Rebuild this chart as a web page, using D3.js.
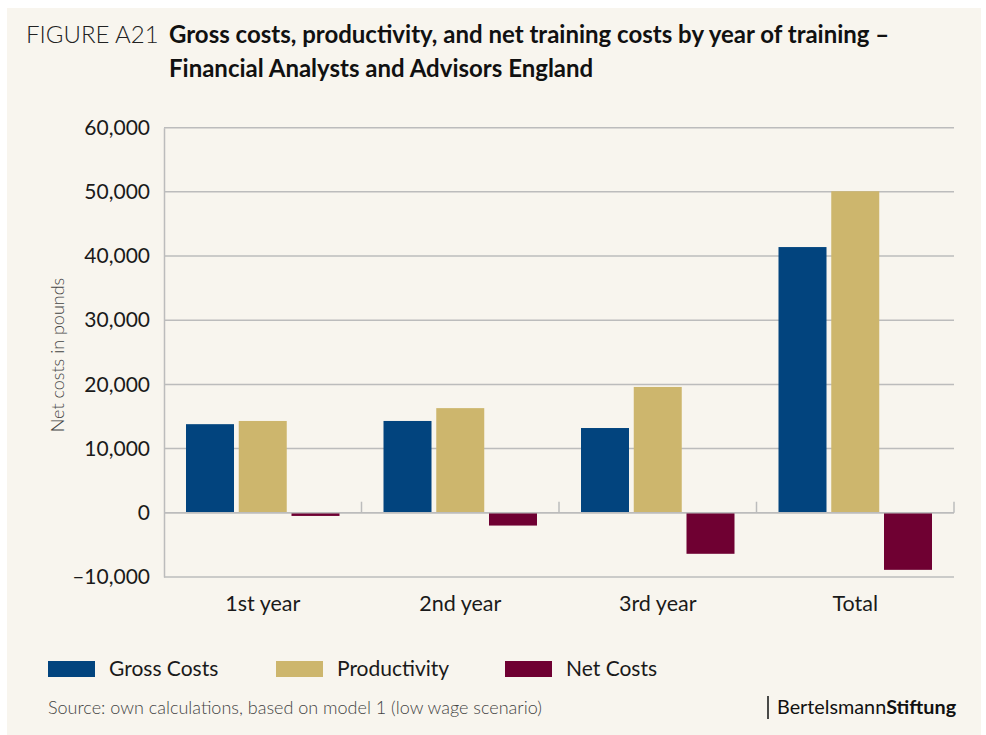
<!DOCTYPE html>
<html>
<head>
<meta charset="utf-8">
<script src="https://cdn.jsdelivr.net/npm/d3@7"></script>
<style>
  body { margin: 0; background: #fff; }
  svg { display: block; font-family: Lato, "Open Sans", sans-serif; }
</style>
</head>
<body>
<svg id="chart" width="986" height="735"></svg>
<script>
// data
const categories = ['1st year', '2nd year', '3rd year', 'Total'];
const series = ['Gross Costs', 'Productivity', 'Net Costs'];
const grossCosts = [13800, 14300, 13200, 41400];
const productivity = [14300, 16300, 19600, 50100];
const netCosts = [-500, -2000, -6400, -8900];
const yTicks = [-10000, 0, 10000, 20000, 30000, 40000, 50000, 60000];
const colors = ['#02447e', '#cdb66d', '#6f0032'];

const values = [grossCosts, productivity, netCosts];
const rows = categories.map((c, i) => ({
  cat: c,
  vals: series.map((s, j) => ({ key: s, value: values[j][i], color: colors[j] }))
}));

const svg = d3.select('#chart');

// background panel
svg.append('rect')
  .attr('x', 7).attr('y', 8).attr('width', 974).attr('height', 727)
  .attr('fill', '#f8f5ee');

// title
svg.append('text')
  .attr('x', 26).attr('y', 43)
  .attr('font-size', 24).attr('font-weight', 300).attr('fill', '#222')
  .text('FIGURE A21');
svg.append('text')
  .attr('x', 169).attr('y', 43)
  .attr('font-size', 24).attr('font-weight', 700).attr('fill', '#111')
  .text('Gross costs, productivity, and net training costs by year of training –');
svg.append('text')
  .attr('x', 169).attr('y', 77)
  .attr('font-size', 24).attr('font-weight', 700).attr('fill', '#111')
  .text('Financial Analysts and Advisors England');

const plotL = 164, plotR = 954, plotT = 127.7, plotB = 576.9;

const y = d3.scaleLinear().domain([-10000, 60000]).range([plotB, plotT]);
const x0 = d3.scaleBand().domain(categories).range([plotL, plotR]).padding(0);
const x1 = d3.scaleBand().domain(series)
  .range([22, x0.bandwidth() - 22]).paddingInner(0.09).paddingOuter(0);

// gridlines
svg.append('g')
  .selectAll('line')
  .data(yTicks)
  .join('line')
  .attr('x1', plotL).attr('x2', plotR)
  .attr('y1', d => y(d)).attr('y2', d => y(d))
  .attr('stroke', '#bcbcbc').attr('stroke-width', 1.5);

// y axis
const yAxis = svg.append('g')
  .attr('transform', `translate(${plotL},0)`)
  .call(d3.axisLeft(y).tickValues(yTicks).tickSize(0).tickPadding(14)
    .tickFormat(d => (d < 0 ? '–' : '') + d3.format(',')(Math.abs(d))));
yAxis.select('.domain').attr('stroke', '#bcbcbc').attr('stroke-width', 1.5);
yAxis.selectAll('text')
  .attr('font-size', 21).attr('fill', '#1a1a1a')
  .attr('font-family', 'Lato, sans-serif');

// y axis title
svg.append('text')
  .attr('transform', 'translate(64,355) rotate(-90)')
  .attr('text-anchor', 'middle')
  .attr('font-size', 18).attr('font-weight', 300).attr('fill', '#444')
  .text('Net costs in pounds');

// bars
const groups = svg.append('g')
  .selectAll('g')
  .data(rows)
  .join('g')
  .attr('transform', d => `translate(${x0(d.cat)},0)`);

groups.selectAll('rect')
  .data(d => d.vals)
  .join('rect')
  .attr('x', d => x1(d.key))
  .attr('width', x1.bandwidth())
  .attr('y', d => y(Math.max(0, d.value)))
  .attr('height', d => Math.abs(y(d.value) - y(0)))
  .attr('fill', d => d.color);

// zero line on top with category ticks
svg.append('line')
  .attr('x1', plotL).attr('x2', plotR)
  .attr('y1', y(0)).attr('y2', y(0))
  .attr('stroke', '#bcbcbc').attr('stroke-width', 1.5);
svg.append('g')
  .selectAll('line')
  .data(categories.slice(1).map(c => x0(c)).concat([plotR]))
  .join('line')
  .attr('x1', d => d).attr('x2', d => d)
  .attr('y1', y(0)).attr('y2', y(0) - 11)
  .attr('stroke', '#bcbcbc').attr('stroke-width', 1.5);

// category labels
svg.append('g')
  .selectAll('text')
  .data(categories)
  .join('text')
  .attr('x', d => x0(d) + x0.bandwidth() / 2)
  .attr('y', 611)
  .attr('text-anchor', 'middle')
  .attr('font-size', 21.5).attr('fill', '#1a1a1a')
  .text(d => d);

// legend
const legendX = [48, 276, 505];
const legend = svg.append('g')
  .selectAll('g')
  .data(series)
  .join('g')
  .attr('transform', (d, i) => `translate(${legendX[i]},661)`);
legend.append('rect')
  .attr('width', 47).attr('height', 16)
  .attr('fill', (d, i) => colors[i]);
legend.append('text')
  .attr('x', 61).attr('y', 15)
  .attr('font-size', 21).attr('fill', '#1a1a1a')
  .text(d => d);

// source
svg.append('text')
  .attr('x', 48).attr('y', 714)
  .attr('font-size', 18).attr('font-weight', 300).attr('fill', '#444')
  .text('Source: own calculations, based on model 1 (low wage scenario)');

// logo
svg.append('line')
  .attr('x1', 768).attr('x2', 768).attr('y1', 696).attr('y2', 719)
  .attr('stroke', '#111').attr('stroke-width', 1.5);
const logo = svg.append('text')
  .attr('x', 777).attr('y', 714)
  .attr('font-size', 19.8).attr('fill', '#111');
logo.append('tspan').text('Bertelsmann');
logo.append('tspan').attr('font-weight', 700).text('Stiftung');
</script>
</body>
</html>
